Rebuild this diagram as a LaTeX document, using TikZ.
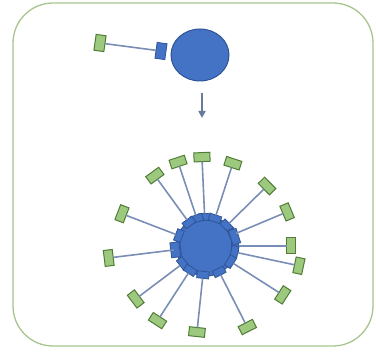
\documentclass[tikz,border=0pt]{standalone}
\usetikzlibrary{arrows.meta,shapes.geometric,calc}
\definecolor{cellblue}{HTML}{4472C4}
\definecolor{celledge}{HTML}{2F5597}
\definecolor{ligfill}{HTML}{9CC97E}
\definecolor{ligedge}{HTML}{507C36}
\definecolor{stalk}{HTML}{7A8EB5}
\definecolor{frame}{HTML}{A8C48F}
\begin{document}
\begin{tikzpicture}[x=1pt,y=1pt,
  cell/.style={draw=celledge, fill=cellblue, line width=1pt, inner sep=0pt},
  receptor/.style={rectangle, draw=celledge, fill=cellblue, line width=0.8pt, inner sep=0pt, outer sep=0pt, minimum width=7pt, minimum height=12pt},
  ligand/.style={rectangle, draw=ligedge, fill=ligfill, line width=1pt, inner sep=0pt, outer sep=0pt, minimum width=9pt, minimum height=16pt},
  tether/.style={draw=stalk, line width=1.6pt},
  flow/.style={draw=stalk!85!black, line width=1.8pt, -{Triangle[length=7pt,width=7pt]}}]
\useasboundingbox (0,0) rectangle (376,353);
\draw[frame, line width=1.3pt, rounded corners=40pt] (13,7) rectangle (373,350);
% top: single cell with one receptor
\node[cell, ellipse, minimum width=58pt, minimum height=52pt] (topcell) at (200,298) {};
\node[receptor, minimum width=10pt, minimum height=16pt, rotate=-8] (topr) at (161,302) {};
\node[ligand, minimum width=10pt, minimum height=16pt, rotate=-8] (topl) at (100,310) {};
\draw[tether] (topl) -- (topr);
% arrow
\coordinate (a1) at (202,260);
\coordinate (a2) at (202,235);
\draw[flow] (a1) -- (a2);
% bottom cell
\node[cell, circle, minimum size=60pt] (big) at (206,107) {};
\foreach \i/\ang/\rad in {1/92.6/89, 2/108.4/88.5, 3/72/87, 4/126/87, 5/44.5/85.6,
  6/159/90, 7/22.8/88, 8/0/85, 9/187/98, 10/-12/95, 11/217/88, 12/-32.5/91,
  13/237/89, 14/264/86.5, 15/297/91}{
  \node[receptor, rotate=\ang] (r\i) at ($(big.center)+(\ang:29)$) {};
}
\node[receptor, rotate=187, minimum width=9pt, minimum height=15pt] (rx9) at ($(big.center)+(187:31)$) {};
\node[receptor, rotate=18, minimum width=8pt, minimum height=15pt] (rx7) at ($(big.center)+(18:30)$) {};
\foreach \i/\ang/\rad in {1/92.6/89, 2/108.4/88.5, 3/72/87, 4/126/87, 5/44.5/85.6,
  6/159/90, 7/22.8/88, 8/0/85, 9/187/98, 10/-12/95, 11/217/88, 12/-32.5/91,
  13/237/89, 14/264/86.5, 15/297/91}{
  \node[ligand, rotate=\ang] (g\i) at ($(big.center)+(\ang:\rad)$) {};
  \draw[tether] (r\i) -- (g\i);
}
\end{tikzpicture}
\end{document}
